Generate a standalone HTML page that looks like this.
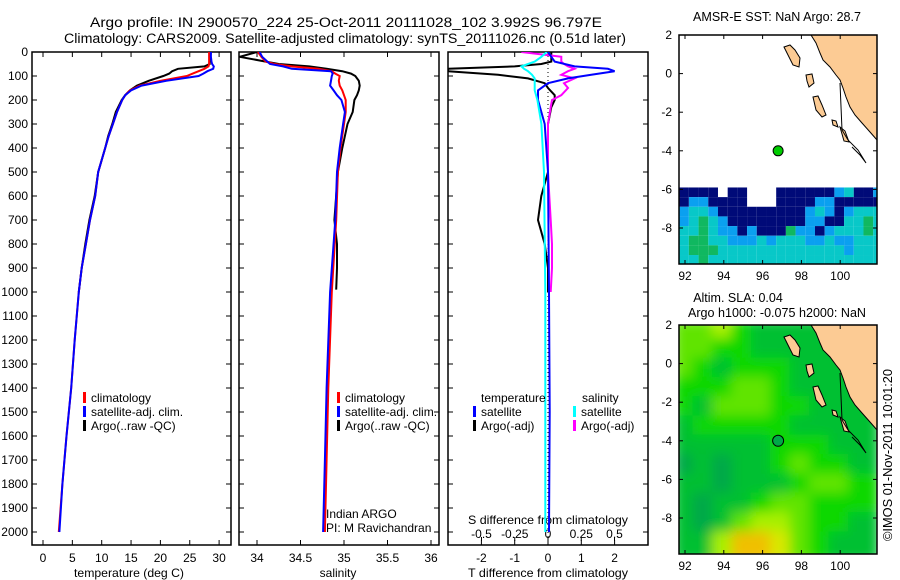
<!DOCTYPE html>
<html><head><meta charset="utf-8"><style>
body{margin:0;background:#fff;}
svg{display:block;font-family:"Liberation Sans",sans-serif;}
text{font-size:12px;fill:#000;}
</style></head><body>
<svg id="c" width="900" height="580" viewBox="0 0 900 580"></svg>
<script>
// ---------- data ----------
const tDepths=[0,20,40,50,60,70,80,90,100,120,140,160,180,200,250,300,350,400,450,500,600,700,800,900,1000,1200,1400,1600,1800,2000];
const tClim=[28.3,28.3,28.3,28.3,28.2,27.5,26.5,25.5,24.5,20,16.5,14.8,14,13.5,12.6,11.9,11.2,10.6,10.0,9.4,8.9,8.0,7.3,6.6,6.1,5.4,4.8,4.0,3.3,2.7];
const tSat=[28.6,28.6,28.7,28.8,29.1,29,28,27.3,26.5,21,16.8,15,14,13.5,12.6,11.9,11.2,10.6,10.0,9.4,8.9,8.0,7.3,6.6,6.1,5.4,4.8,4.0,3.3,2.8];
const argoDepths=[0,20,40,50,60,70,80,90,100,120,140,160,180,200,250,300,350,400,450,500,600,700,800,900,1000];
const tArgo=[28.6,28.5,28.4,28.4,27.5,23,22,21.5,20.5,18,16,14.8,14,13.4,12.4,11.8,11.1,10.6,10.0,9.4,8.8,7.9,7.2,6.6,6.1];
const sDepths=[0,20,40,50,60,70,80,90,100,120,140,160,180,200,250,300,400,500,700,1000,1400,1700,2000];
const sClim=[34.01,34.05,34.1,34.2,34.4,34.7,34.86,34.9,34.95,34.94,34.95,34.98,35.0,35.02,35.02,35.0,34.96,34.93,34.91,34.86,34.82,34.8,34.78];
const sSat=[34.03,34.06,34.12,34.15,34.3,34.4,34.85,34.87,34.86,34.85,34.84,34.88,34.92,34.97,35.01,34.99,34.95,34.92,34.9,34.84,34.8,34.78,34.76];
const sArgoDepths=[0,20,40,50,60,70,80,90,100,120,140,160,180,200,250,300,400,500,700,800,900,990];
const sArgo=[34.0,33.8,34.1,34.25,34.6,34.8,34.98,35.08,35.13,35.17,35.18,35.17,35.15,35.12,35.1,35.04,34.98,34.93,34.89,34.92,34.92,34.91];
const dDepths=[0,20,40,50,60,70,80,95,110,130,150,180,200,230,300,400,500,600,700,800,900,1000];
const dTArgo=[0.1,0.1,0.1,-0.2,-1,-3,-3,-1.5,-0.6,-0.1,0,0.2,0.2,0.1,0,0,0,-0.2,-0.3,-0.1,0,0];
const dSArgo=[-0.2,0.1,0.1,0.12,0.15,0.2,0.15,0.1,0.2,0.12,0.15,0.1,0.03,0.02,0.0,0.0,0.0,0.01,0.02,0.03,0.03,0.02];
const satDepths=[0,20,40,60,70,80,95,110,130,160,200,300,500,1000,1500,2000];
const dTSat=[0,0.1,0.2,0.8,1.8,2.0,1.3,0.6,0,-0.3,-0.3,-0.1,0,0.03,0.05,0.03];
const dSSat=[-0.01,-0.05,-0.1,-0.2,-0.18,-0.15,-0.12,-0.1,-0.1,-0.1,-0.08,-0.05,-0.03,-0.02,-0.02,-0.02];
const depthTicks=[0,100,200,300,400,500,600,700,800,900,1000,1100,1200,1300,1400,1500,1600,1700,1800,1900,2000];
const tempTicks=[0,5,10,15,20,25,30];
const salTicks=[34,34.5,35,35.5,36];
const dTTicks=[-2,-1,0,1,2];
const dSTicks=[-0.5,-0.25,0,0.25,0.5];
const dSLabels=["-0.5","-0.25","0","0.25","0.5"];
const lonTicks=[92,94,96,98,100];
const latTicks=[2,0,-2,-4,-6,-8];
const argoLon=96.8, argoLat=-4.0;
const sstRows=["nnnn nn   nnnnnnbcnnb","nbbnnnn   nnnnbbnnnnn","bccbnnnnnnnnnbcbnbccc","bcgcbnnnnnnnnbbnnccgc","ccgcbbnbnnngbbnbcccgc","cggccbbbcbcccbbcbbccc","cgggcccccccccccccbccc","ccgcccccccccccccccccc"];
const slaRows=["3342111111","3322111111","3212221111","2223321111","2133322111","1222221111","1111122211","0101123221","1101112332","1011233222","1013443221","1146653211"];

// ---------- helpers ----------
const NS="http://www.w3.org/2000/svg";
const svg=document.getElementById('c');
function mk(tag,attrs,parent){const e=document.createElementNS(NS,tag);for(const k in attrs)e.setAttribute(k,attrs[k]);(parent||svg).appendChild(e);return e;}
function txt(x,y,s,anchor,parent,size,len){const e=mk('text',{x:x,y:y,'text-anchor':anchor||'start'},parent);if(size)e.style.fontSize=size+'px';if(len){e.setAttribute('textLength',len);e.setAttribute('lengthAdjust','spacingAndGlyphs');}e.textContent=s;return e;}
const Y0=52, PY=0.24, YB=545;
const yD=d=>Y0+d*PY;
let clipN=0;
function panel(x0,x1,name){
  const g=mk('g',{});
  
  
  const id='pc'+(clipN++);
  const cp=mk('clipPath',{id:id},svg);mk('rect',{x:x0,y:Y0,width:x1-x0,height:YB-Y0},cp);
  g.clipId=id;
  mk('rect',{x:x0,y:Y0,width:x1-x0,height:YB-Y0,fill:'none',stroke:'#000','stroke-width':1.5},g);
  depthTicks.forEach(d=>{const y=yD(d);mk('line',{x1:x0,x2:x0+5,y1:y,y2:y,stroke:'#000'},g);mk('line',{x1:x1-5,x2:x1,y1:y,y2:y,stroke:'#000'},g);});
  return g;
}
function line(g,xs,ds,fx,color,name,w){
  const p=mk('polyline',{points:xs.map((v,i)=>fx(v).toFixed(1)+','+yD(ds[i]).toFixed(1)).join(' '),fill:'none',stroke:color,'stroke-width':w||2,'clip-path':'url(#'+g.clipId+')'},g);
  
  
}
function legend(g,x,y,color,label){const e=mk('g',{},g);mk('rect',{x:x,y:y-10,width:3,height:11,fill:color},e);txt(x+8,y,label,'start',e);}

const tt=mk('g',{});


txt(346,27,'Argo profile: IN 2900570_224 25-Oct-2011 20111028_102 3.992S 96.797E','middle',tt,13.5,512);
txt(345,43,'Climatology: CARS2009. Satellite-adjusted climatology: synTS_20111026.nc (0.51d later)','middle',tt,13.5,562);

// panel 1
const xT=v=>43+v*5.87;
const p1=panel(32,231,'temperature-panel');
depthTicks.forEach(d=>txt(28,yD(d)+4,String(d),'end',p1));
tempTicks.forEach(v=>{const x=xT(v);mk('line',{x1:x,x2:x,y1:Y0,y2:Y0+5,stroke:'#000'},p1);mk('line',{x1:x,x2:x,y1:YB-5,y2:YB,stroke:'#000'},p1);txt(x,562,String(v),'middle',p1);});
txt(129,577,'temperature (deg C)','middle',p1,12,110);
line(p1,tArgo,argoDepths,xT,'#000','temp-argo-line');
line(p1,tClim,tDepths,xT,'#f00','temp-climatology-line');
line(p1,tSat,tDepths,xT,'#00f','temp-satellite-line');
legend(p1,83,402,'#f00','climatology');legend(p1,83,416,'#00f','satellite-adj. clim.');legend(p1,83,430,'#000','Argo(..raw -QC)');

// panel 2
const xS=v=>257+(v-34)*87;
const p2=panel(239,439,'salinity-panel');
salTicks.forEach(v=>{const x=xS(v);mk('line',{x1:x,x2:x,y1:Y0,y2:Y0+5,stroke:'#000'},p2);mk('line',{x1:x,x2:x,y1:YB-5,y2:YB,stroke:'#000'},p2);txt(x,562,String(v),'middle',p2);});
txt(338,577,'salinity','middle',p2);
line(p2,sArgo,sArgoDepths,xS,'#000','salinity-argo-line');
line(p2,sClim,sDepths,xS,'#f00','salinity-climatology-line');
line(p2,sSat,sDepths,xS,'#00f','salinity-satellite-line');
legend(p2,337,402,'#f00','climatology');legend(p2,337,416,'#00f','satellite-adj. clim.');legend(p2,337,430,'#000','Argo(..raw -QC)');
txt(326,518,'Indian ARGO','start',p2);txt(326,532,'PI: M Ravichandran','start',p2);

// panel 3
const xdT=v=>548+v*33.3, xdS=v=>548+v*133;
const p3=panel(448,648,'difference-panel');
dTTicks.forEach(v=>{const x=xdT(v);mk('line',{x1:x,x2:x,y1:Y0,y2:Y0+5,stroke:'#000'},p3);mk('line',{x1:x,x2:x,y1:YB-5,y2:YB,stroke:'#000'},p3);txt(x,562,String(v),'middle',p3);});
dSTicks.forEach((v,i)=>{const x=xdS(v);mk('line',{x1:x,x2:x,y1:YB-8,y2:YB-4,stroke:'#000'},p3);txt(x,538,dSLabels[i],'middle',p3);});
txt(548,524,'S difference from climatology','middle',p3,12,160);
txt(548,577,'T difference from climatology','middle',p3,12,160);
mk('line',{x1:548,x2:548,y1:Y0,y2:YB,stroke:'#000','stroke-dasharray':'1,3'},p3);
line(p3,dTArgo,dDepths,xdT,'#000','tdiff-argo-line');
line(p3,dSArgo,dDepths,xdS,'#f0f','sdiff-argo-line');
line(p3,dTSat,satDepths,xdT,'#00f','tdiff-satellite-line');
line(p3,dSSat,satDepths,xdS,'#0ff','sdiff-satellite-line');
txt(481,402,'temperature','start',p3);txt(582,402,'salinity','start',p3);
legend(p3,473,416,'#00f','satellite');legend(p3,473,430,'#000','Argo(-adj)');
legend(p3,573,416,'#0ff','satellite');legend(p3,573,430,'#f0f','Argo(-adj)');

// maps
const MX0=679,MX1=877,MH=229;
const lonX=l=>685+(l-92)*19.4;
function map(y0,name){
  const g=mk('g',{});
  
  
  const latY=l=>y0+(2-l)*19.3;
  return {g,latY,finish:()=>{
    const land=[[811,0],[816,8],[820,18],[823,25],[830,32],[836,40],[840,45],[843,53],[846,62],[850,72],[855,80],[862,88],[870,97],[877,105],[877,0]];
    const lp=mk('polygon',{points:land.map(p=>p[0]+','+(y0+p[1])).join(' '),fill:'#fccb94',stroke:'#000','stroke-width':1},g);
    
    
    const isl=[[[784,12],[790,10],[795,15],[800,23],[799,32],[793,30],[788,20]],[[806,40],[812,39],[814,48],[809,52],[807,46]],[[813,62],[818,61],[822,70],[826,80],[822,82],[816,75]],[[832,85],[836,86],[838,92],[833,90]],[[840,92],[845,96],[849,107],[844,106]]];
    isl.forEach(s=>mk('polygon',{points:s.map(p=>p[0]+','+(y0+p[1])).join(' '),fill:'#fccb94',stroke:'#000','stroke-width':1},g));
    mk('polyline',{points:[[840,48],[842,95],[848,105],[858,115],[866,128],[860,120],[852,112]].map(p=>p[0]+','+(y0+p[1])).join(' '),fill:'none',stroke:'#000','stroke-width':1},g);
    mk('rect',{x:MX0,y:y0,width:MX1-MX0,height:MH,fill:'none',stroke:'#000','stroke-width':1.5},g);
    lonTicks.forEach(l=>{const x=lonX(l);mk('line',{x1:x,x2:x,y1:y0,y2:y0+4,stroke:'#000'},g);mk('line',{x1:x,x2:x,y1:y0+MH-4,y2:y0+MH,stroke:'#000'},g);txt(x,y0+MH+16,String(l),'middle',g);});
    latTicks.forEach(l=>{const y=latY(l);mk('line',{x1:MX0,x2:MX0+4,y1:y,y2:y,stroke:'#000'},g);mk('line',{x1:MX1-4,x2:MX1,y1:y,y2:y,stroke:'#000'},g);txt(MX0-7,y+4,String(l),'end',g);});
  }};
}
const m1=map(35,'sst-map');
const sstCol={n:'#000a78',b:'#0aa0f0',c:'#08c8c8',g:'#10b860'};
sstRows.forEach((r,i)=>{for(let j=0;j<r.length;j++){const ch=r[j];if(ch===' ')continue;
  const x=lonX(91.7+j*0.5), y=m1.latY(-5.9-i*0.5);
  const w=Math.min(lonX(91.7+(j+1)*0.5),MX1)-x, h=Math.min(m1.latY(-5.9-(i+1)*0.5),35+MH)-y;
  const c=mk('rect',{x:x,y:y,width:w,height:h,fill:sstCol[ch]},m1.g);
  
  }});
m1.finish();
const d1=mk('circle',{cx:lonX(argoLon),cy:m1.latY(argoLat),r:5,fill:'#0c0',stroke:'#000'},m1.g);


txt(777,21,'AMSR-E SST: NaN Argo: 28.7','middle',m1.g,12.5,168);

const m2=map(325,'sla-map');
const slaCol=['#00a848','#00c030','#10d800','#60e400','#a8f000','#d8e800','#f0c000','#f0a000','#f08000'];
const cp=mk('clipPath',{id:'clip2'},svg);mk('rect',{x:MX0,y:325,width:MX1-MX0,height:MH},cp);
const fl=mk('filter',{id:'blur2',x:'-10%',y:'-10%',width:'120%',height:'120%'},svg);mk('feGaussianBlur',{stdDeviation:6},fl);
const sg=mk('g',{'clip-path':'url(#clip2)'},m2.g);
const sb=mk('g',{filter:'url(#blur2)'},sg);
slaRows.forEach((r,i)=>{for(let j=0;j<r.length;j++){
  const x=lonX(91.7+j)-6, y=m2.latY(2-i)-6;
  const c=mk('rect',{x:x,y:y,width:lonX(92.7+j)-lonX(91.7+j)+12,height:m2.latY(1-i)-m2.latY(2-i)+12,fill:slaCol[+r[j]]},sb);
  
  }});
m2.finish();
const d2=mk('circle',{cx:lonX(argoLon),cy:m2.latY(argoLat),r:5.5,fill:'#00a848',stroke:'#000'},m2.g);


txt(738,302,'Altim. SLA: 0.04','middle',m2.g,12.5);
txt(777,317,'Argo h1000: -0.075 h2000: NaN','middle',m2.g,12.5,178);
const cr=txt(0,0,'©IMOS 01-Nov-2011 10:01:20','middle',null,12.5,172);
cr.setAttribute('transform','translate(892,455) rotate(-90)');


</script>
</body></html>
